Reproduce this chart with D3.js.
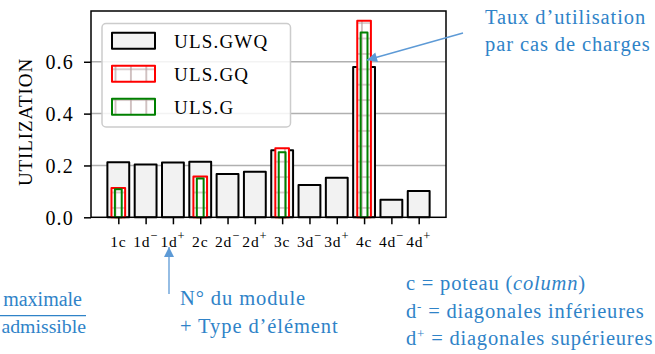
<!DOCTYPE html>
<html>
<head>
<meta charset="utf-8">
<script src="https://cdn.jsdelivr.net/npm/d3@7"></script>
<style>
  body { margin: 0; background: #fff; }
  svg text { font-family: "Liberation Serif", "DejaVu Serif", serif; }
</style>
</head>
<body>
<div id="chart"></div>
<script>
// data
const categories = ["1c", "1d-", "1d+", "2c", "2d-", "2d+", "3c", "3d-", "3d+", "4c", "4d-", "4d+"];
const ulsGWQ = [0.212, 0.204, 0.211, 0.214, 0.167, 0.176, 0.259, 0.125, 0.153, 0.580, 0.068, 0.101];
const ulsGQ = [0.113, 0, 0, 0.157, 0, 0, 0.266, 0, 0, 0.758, 0, 0];
const ulsG = [0.108, 0, 0, 0.150, 0, 0, 0.251, 0, 0, 0.713, 0, 0];
const yTicks = [0, 0.2, 0.4, 0.6];
const seriesNames = ["ULS.GWQ", "ULS.GQ", "ULS.G"];

const width = 655;
const height = 354;
const blue = "#2f83c8";
const arrowBlue = "#5d9ad6";

const svg = d3.select("#chart")
  .append("svg")
  .attr("width", width)
  .attr("height", height)
  .attr("font-family", "Liberation Serif");

const defs = svg.append("defs");

// hatch '+' pattern with white background
const hatch = defs.append("pattern")
  .attr("id", "hatch")
  .attr("patternUnits", "userSpaceOnUse")
  .attr("width", 15.4)
  .attr("height", 15.4);
hatch.append("rect").attr("width", 15.4).attr("height", 15.4).attr("fill", "#fff");
hatch.append("path")
  .attr("d", "M0,7.7H15.4M7.7,0V15.4")
  .attr("stroke", "#b49c9c")
  .attr("stroke-width", 1.2);

// arrow head
defs.append("marker")
  .attr("id", "head")
  .attr("viewBox", "0 0 10 10")
  .attr("refX", 10).attr("refY", 5)
  .attr("markerUnits", "userSpaceOnUse")
  .attr("markerWidth", 11).attr("markerHeight", 10)
  .attr("orient", "auto")
  .append("path")
  .attr("d", "M0,0L10,5L0,10z")
  .attr("fill", arrowBlue);

// plot area
const plotLeft = 91, plotRight = 446, plotTop = 11, plotBottom = 217.3;

const x = d3.scalePoint()
  .domain(categories)
  .range([plotLeft, plotRight])
  .padding(1);

const step = x.step();

const yMax = d3.max([...ulsGWQ, ...ulsGQ, ...ulsG]) * 1.05;
const y = d3.scaleLinear()
  .domain([0, yMax])
  .range([plotBottom, plotTop]);

// grid
svg.append("g")
  .selectAll("line")
  .data(yTicks.filter(d => d > 0))
  .join("line")
  .attr("x1", plotLeft).attr("x2", plotRight)
  .attr("y1", d => y(d)).attr("y2", d => y(d))
  .attr("stroke", "#b0b0b0")
  .attr("stroke-width", 1.5);

// bars
function drawBars(values, frac, fill, stroke) {
  svg.append("g")
    .selectAll("rect")
    .data(values.map((v, i) => ({ c: categories[i], v })))
    .join("rect")
    .attr("x", d => x(d.c) - frac * step / 2)
    .attr("width", frac * step)
    .attr("y", d => y(d.v))
    .attr("height", d => y(0) - y(d.v))
    .attr("fill", fill)
    .attr("stroke", stroke)
    .attr("stroke-width", 2)
    .attr("stroke-linejoin", "round");
}
drawBars(ulsGWQ, 0.8, "#f2f2f2", "#000");
drawBars(ulsGQ, 0.5, "url(#hatch)", "#ff0000");
drawBars(ulsG, 0.25, "url(#hatch)", "#008000");

// axes
const yAxis = svg.append("g")
  .attr("transform", `translate(${plotLeft},0)`)
  .call(d3.axisLeft(y).tickValues(yTicks).tickFormat(d3.format(".1f")).tickSize(7).tickPadding(10));
yAxis.attr("font-family", "Liberation Serif");
yAxis.select(".domain").remove();
yAxis.selectAll("line").attr("stroke", "#000").attr("stroke-width", 1.5);
yAxis.selectAll("text")
  .attr("font-size", 20)
  .attr("letter-spacing", 1.2)
  .attr("fill", "#000")
  .attr("dy", "0.36em");

const xAxis = svg.append("g")
  .attr("transform", `translate(0,${plotBottom})`)
  .call(d3.axisBottom(x).tickSize(7).tickFormat(""));
xAxis.select(".domain").remove();
xAxis.selectAll("line").attr("stroke", "#000").attr("stroke-width", 1.5);

// x tick labels with superscripts
const xl = svg.append("g")
  .selectAll("text")
  .data(categories)
  .join("text")
  .attr("x", d => x(d))
  .attr("y", 247)
  .attr("text-anchor", "middle")
  .attr("font-size", 15.5)
  .attr("letter-spacing", 0.8);
xl.append("tspan").text(d => d.slice(0, 2));
xl.append("tspan")
  .attr("font-size", 12.5)
  .attr("dy", -7)
  .text(d => d.slice(2) === "-" ? "\u2212" : d.slice(2));

// frame
svg.append("rect")
  .attr("x", plotLeft).attr("y", plotTop)
  .attr("width", plotRight - plotLeft).attr("height", plotBottom - plotTop)
  .attr("fill", "none")
  .attr("stroke", "#000")
  .attr("stroke-width", 1.5);

// y label
svg.append("text")
  .attr("transform", "translate(31.5,122) rotate(-90)")
  .attr("text-anchor", "middle")
  .attr("font-size", 19)
  .attr("letter-spacing", 0.9)
  .text("UTILIZATION");

// legend
const legend = svg.append("g");
legend.append("rect")
  .attr("x", 102).attr("y", 23.5)
  .attr("width", 188.5).attr("height", 103.5)
  .attr("rx", 4)
  .attr("fill", "#fff").attr("fill-opacity", 0.85)
  .attr("stroke", "#cccccc").attr("stroke-width", 1.5);

const legendFills = ["#f2f2f2", "url(#hatch)", "url(#hatch)"];
const legendStrokes = ["#000", "#ff0000", "#008000"];
seriesNames.forEach((name, i) => {
  const cy = 40.7 + i * 33;
  legend.append("rect")
    .attr("x", 112).attr("y", cy - 8)
    .attr("width", 43).attr("height", 16)
    .attr("fill", legendFills[i])
    .attr("stroke", legendStrokes[i])
    .attr("stroke-width", 2)
    .attr("stroke-linejoin", "round");
  legend.append("text")
    .attr("x", 174).attr("y", cy + 7)
    .attr("font-size", 19)
    .attr("letter-spacing", 1.2)
    .text(name);
});

// annotations
const notes = svg.append("g").attr("fill", blue).attr("font-size", 20.5);

notes.append("text").attr("x", 485).attr("y", 24)
  .attr("letter-spacing", 0.9)
  .text("Taux d\u2019utilisation");
notes.append("text").attr("x", 485).attr("y", 51)
  .attr("letter-spacing", 0.9)
  .text("par cas de charges");

svg.append("line")
  .attr("x1", 463).attr("y1", 33)
  .attr("x2", 367).attr("y2", 60)
  .attr("stroke", arrowBlue).attr("stroke-width", 1.3)
  .attr("marker-end", "url(#head)");

svg.append("line")
  .attr("x1", 169).attr("y1", 294)
  .attr("x2", 169).attr("y2", 247)
  .attr("stroke", arrowBlue).attr("stroke-width", 1.3)
  .attr("marker-end", "url(#head)");

// fraction on the left (reaches the figure edge)
notes.append("text").attr("x", 82).attr("y", 306)
  .attr("text-anchor", "end").attr("font-size", 20)
  .text("maximale");
svg.append("line")
  .attr("x1", 0).attr("x2", 86)
  .attr("y1", 315.7).attr("y2", 315.7)
  .attr("stroke", blue).attr("stroke-width", 1.3);
notes.append("text").attr("x", 86).attr("y", 333)
  .attr("text-anchor", "end").attr("font-size", 19.8)
  .text("admissible");

notes.append("text").attr("x", 180).attr("y", 305)
  .attr("letter-spacing", 0.9)
  .text("N\u00b0 du module");
notes.append("text").attr("x", 180).attr("y", 333)
  .attr("letter-spacing", 0.9)
  .text("+ Type d\u2019\u00e9l\u00e9ment");

const n1 = notes.append("text").attr("x", 406).attr("y", 289.5)
  .attr("letter-spacing", 0.8);
n1.append("tspan").text("c = poteau (");
n1.append("tspan").attr("font-style", "italic").text("column");
n1.append("tspan").text(")");

const n2 = notes.append("text").attr("x", 406).attr("y", 317.7)
  .attr("letter-spacing", 0.8);
n2.append("tspan").text("d");
n2.append("tspan").attr("font-size", 13).attr("dy", -7).text("-");
n2.append("tspan").attr("dy", 7).text(" = diagonales inf\u00e9rieures");

const n3 = notes.append("text").attr("x", 406).attr("y", 345)
  .attr("letter-spacing", 0.8);
n3.append("tspan").text("d");
n3.append("tspan").attr("font-size", 13).attr("dy", -7).text("+");
n3.append("tspan").attr("dy", 7).text(" = diagonales sup\u00e9rieures");
</script>
</body>
</html>
